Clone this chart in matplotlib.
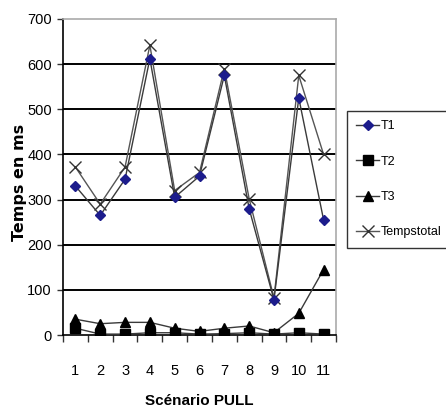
import matplotlib
matplotlib.use("Agg")
import matplotlib.pyplot as plt

scenarios = [1, 2, 3, 4, 5, 6, 7, 8, 9, 10, 11]
t1 = [330, 265, 345, 612, 305, 352, 575, 280, 78, 525, 255]
t2 = [15, 2, 2, 5, 5, 2, 3, 5, 2, 5, 2]
t3 = [35, 25, 28, 28, 15, 8, 15, 20, 5, 48, 145]
total = [372, 290, 372, 642, 320, 360, 590, 302, 82, 575, 400]
yticks = [0, 100, 200, 300, 400, 500, 600, 700]

plt.rcParams['font.family'] = ['Liberation Sans', 'DejaVu Sans']

fig = plt.figure(figsize=(4.46, 4.11), dpi=100)
ax = fig.add_axes([63/446, 76/411, 273/446, 316/411])

for y in yticks[1:-1]:
    ax.axhline(y, color='black', lw=1.4, zorder=1)

lc = '#3a3a3a'
ax.plot(scenarios, total, color='#555555', lw=1.0, marker='x', ms=8, mew=1.0,
        mec='#333333', label='Tempstotal', zorder=3)
ax.plot(scenarios, t3, color=lc, lw=1.0, marker='^', ms=7, mfc='black', mec='black',
        label='T3', zorder=4)
ax.plot(scenarios, t2, color=lc, lw=1.0, marker='s', ms=6.5, mfc='black', mec='black',
        label='T2', zorder=4)
ax.plot(scenarios, t1, color=lc, lw=1.0, marker='D', ms=5.5, mfc='#1c1c8c', mec='#1c1c8c',
        label='T1', zorder=5)

ax.set_xlim(0.5, 11.5)
ax.set_ylim(0, 700)
ax.set_yticks(yticks)
ax.set_yticklabels([str(v) for v in yticks], fontsize=10.5)
ax.set_xticks([i + 0.5 for i in range(0, 12)], minor=False)
ax.set_xticklabels([])
ax.set_xticks(scenarios, minor=True)
ax.set_xticklabels([str(s) for s in scenarios], minor=True, fontsize=10.5)
ax.tick_params(axis='x', which='major', direction='out', length=5, width=1, color='#333333')
ax.tick_params(axis='x', which='minor', length=0, pad=21)
ax.tick_params(axis='y', direction='out', length=4, width=1, color='#333333', pad=4)

for s in ['top', 'right']:
    ax.spines[s].set_color('#aaaaaa')
    ax.spines[s].set_linewidth(1.2)
for s in ['left', 'bottom']:
    ax.spines[s].set_color('black')
    ax.spines[s].set_linewidth(1.2)

fig.text(20/446, 1 - 182/411, 'Temps en ms', rotation=90, ha='center', va='center',
         fontsize=11.5, fontweight='bold', family=['DejaVu Sans'])
fig.text(199/446, 1 - 401/411, 'Scénario PULL', ha='center', va='center',
         fontsize=11, fontweight='bold')

handles, labels = ax.get_legend_handles_labels()
order = [3, 2, 1, 0]
leg = fig.legend([handles[i] for i in order], [labels[i] for i in order],
                 loc='upper left', bbox_to_anchor=(347/446, 1 - 111/411),
                 fontsize=9, frameon=True, fancybox=False, edgecolor='black',
                 handlelength=1.8, handletextpad=0.15, labelspacing=1.87, borderpad=0.75,
                 borderaxespad=0)
leg.get_frame().set_linewidth(1.0)

fig.savefig('out.png', dpi=100)
